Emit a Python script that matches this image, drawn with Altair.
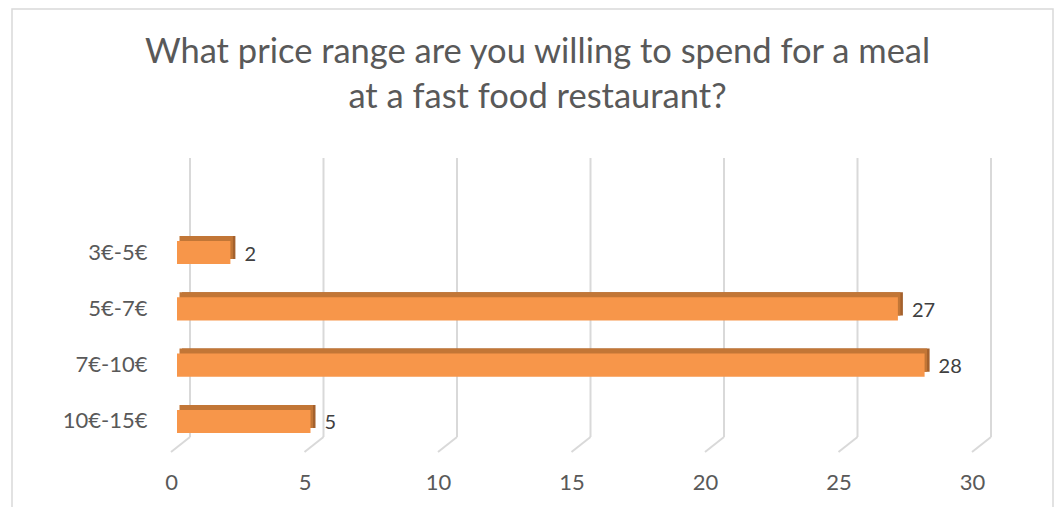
import altair as alt
import pandas as pd

categories = ["3€-5€", "5€-7€", "7€-10€", "10€-15€"]
values = [2, 27, 28, 5]
tick_values = [0, 5, 10, 15, 20, 25, 30]

df = pd.DataFrame({"range": categories, "count": values})
ticks = pd.DataFrame({"t": tick_values})

FONT = "Lato"
W, H = 801, 294

xscale = alt.Scale(domain=[0, 30], nice=False, zero=True)
yscale = alt.Scale(domain=categories, paddingInner=0.59, paddingOuter=0.905, align=0.814)

frame = alt.Chart(pd.DataFrame({"f": [0]})).mark_rect(
    fill=None, stroke="#D9D9D9", strokeWidth=1.5
).encode(
    x=alt.value(-165), x2=alt.value(876), y=alt.value(-149), y2=alt.value(360)
)

grid = alt.Chart(ticks).mark_rule(color="#D9D9D9", strokeWidth=2, xOffset=13).encode(
    x=alt.X("t:Q", scale=xscale),
    y=alt.value(0),
    y2=alt.value(H - 15),
)

floor = alt.Chart(ticks).mark_rule(
    color="#D9D9D9", strokeWidth=2, xOffset=13, x2Offset=-6
).encode(
    x=alt.X("t:Q", scale=xscale),
    x2="t:Q",
    y=alt.value(H - 15),
    y2=alt.value(H),
)

side = alt.Chart(df).mark_bar(color="#A4612D", xOffset=5, yOffset=-5).encode(
    x=alt.X("count:Q", scale=xscale),
    y=alt.Y("range:N", scale=yscale, sort=categories),
)

top = alt.Chart(df).mark_bar(color="#C27636", xOffset=2.5, yOffset=-5).encode(
    x=alt.X("count:Q", scale=xscale),
    y=alt.Y("range:N", scale=yscale, sort=categories),
)

bars = alt.Chart(df).mark_bar(color="#F7964A").encode(
    x=alt.X(
        "count:Q",
        scale=xscale,
        axis=alt.Axis(
            values=tick_values,
            title=None,
            grid=False,
            domain=False,
            ticks=False,
            labelFont=FONT,
            labelFontSize=22,
            labelColor="#595959",
            labelPadding=26,
            labelFlush=False,
            translate=-5.5,
            zindex=2,
        ),
    ),
    y=alt.Y(
        "range:N",
        scale=yscale,
        sort=categories,
        axis=alt.Axis(
            title=None,
            domain=False,
            ticks=False,
            labelFont=FONT,
            labelFontSize=22,
            labelColor="#595959",
            labelPadding=30,
            zindex=2,
        ),
    ),
)

labels = alt.Chart(df).mark_text(
    align="left", dx=14, dy=2, font=FONT, fontSize=20, color="#404040"
).encode(
    x=alt.X("count:Q", scale=xscale),
    y=alt.Y("range:N", scale=yscale, sort=categories),
    text="count:Q",
)

chart = alt.layer(frame, grid, floor, side, top, bars, labels).properties(
    width=W,
    height=H,
    background="white",
    title=alt.TitleParams(
        text=["What price range are you willing to spend for a meal", "at a fast food restaurant?"],
        font=FONT,
        fontSize=34.5,
        fontWeight="normal",
        color="#595959",
        lineHeight=45,
        anchor="middle",
        frame="group",
        dx=-40,
        offset=-107,
    ),
    autosize=alt.AutoSizeParams(type="none"),
    padding={"left": 169, "top": 150, "right": 77, "bottom": 55},
).configure_view(strokeWidth=0, stroke=None)

chart.save("out.html", embed_options={"renderer": "svg", "actions": False})
